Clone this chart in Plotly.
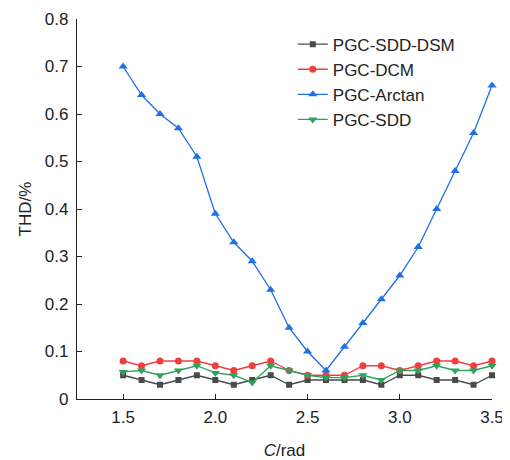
import plotly.graph_objects as go

c_rad = [1.5, 1.6, 1.7, 1.8, 1.9, 2.0, 2.1, 2.2, 2.3, 2.4, 2.5,
         2.6, 2.7, 2.8, 2.9, 3.0, 3.1, 3.2, 3.3, 3.4, 3.5]

thd_sdd_dsm = [0.05, 0.04, 0.03, 0.04, 0.05, 0.04, 0.03, 0.04, 0.05, 0.03, 0.04,
               0.04, 0.04, 0.04, 0.03, 0.05, 0.05, 0.04, 0.04, 0.03, 0.05]
thd_dcm = [0.08, 0.07, 0.08, 0.08, 0.08, 0.07, 0.06, 0.07, 0.08, 0.06, 0.05,
           0.05, 0.05, 0.07, 0.07, 0.06, 0.07, 0.08, 0.08, 0.07, 0.08]
thd_arctan = [0.70, 0.64, 0.60, 0.57, 0.51, 0.39, 0.33, 0.29, 0.23, 0.15, 0.10,
              0.06, 0.11, 0.16, 0.21, 0.26, 0.32, 0.40, 0.48, 0.56, 0.66]
thd_sdd = [0.057, 0.06, 0.05, 0.06, 0.07, 0.055, 0.05, 0.035, 0.07, 0.06, 0.05,
           0.045, 0.045, 0.05, 0.04, 0.06, 0.06, 0.07, 0.06, 0.06, 0.07]

series = [
    ('PGC-SDD-DSM', thd_sdd_dsm, '#4a4a4a', 'square', 6),
    ('PGC-DCM', thd_dcm, '#ee3f3f', 'circle', 7),
    ('PGC-Arctan', thd_arctan, '#1f6fe5', 'triangle-up', 8),
    ('PGC-SDD', thd_sdd, '#2fa35c', 'triangle-down', 8),
]

fig = go.Figure()
for name, vals, col, sym, sz in series:
    fig.add_trace(go.Scatter(x=c_rad, y=vals, name=name, mode='lines+markers',
                             line=dict(color=col, width=1.3), cliponaxis=False,
                             marker=dict(symbol=sym, size=sz, color=col)))

# page body has an 8px margin, so the figure is sized to fit the window
fig.update_layout(
    width=502, height=452,
    margin=dict(l=69, r=18, t=11, b=61),
    paper_bgcolor='white', plot_bgcolor='white',
    font=dict(family='Liberation Sans, Arial', size=17, color='#222222'),
    legend=dict(x=0.52, y=0.98, xanchor='left', yanchor='top',
                bgcolor='rgba(0,0,0,0)', font=dict(size=17),
                tracegroupgap=0, itemwidth=30),
)
fig.update_xaxes(range=[1.25, 3.5], tickvals=[1.5, 2.0, 2.5, 3.0, 3.5],
                 ticktext=['1.5', '2.0', '2.5', '3.0', '3.5'],
                 tickfont=dict(size=17), automargin=False, ticklabelstandoff=2,
                 showline=True, linecolor='#222222', linewidth=1.2,
                 ticks='inside', ticklen=5, tickcolor='#222222',
                 showgrid=False, zeroline=False,
                 title=dict(text='<i>C</i>/rad', standoff=18, font=dict(size=17)))
fig.update_yaxes(range=[0, 0.8], tickvals=[0, 0.1, 0.2, 0.3, 0.4, 0.5, 0.6, 0.7, 0.8],
                 ticktext=['0', '0.1', '0.2', '0.3', '0.4', '0.5', '0.6', '0.7', '0.8'],
                 tickfont=dict(size=17), automargin=False, ticklabelstandoff=4,
                 showline=True, linecolor='#222222', linewidth=1.2,
                 ticks='inside', ticklen=5, tickcolor='#222222',
                 showgrid=False, zeroline=False,
                 title=dict(text='THD/%', standoff=8, font=dict(size=17)))

fig.write_html("out.html")
